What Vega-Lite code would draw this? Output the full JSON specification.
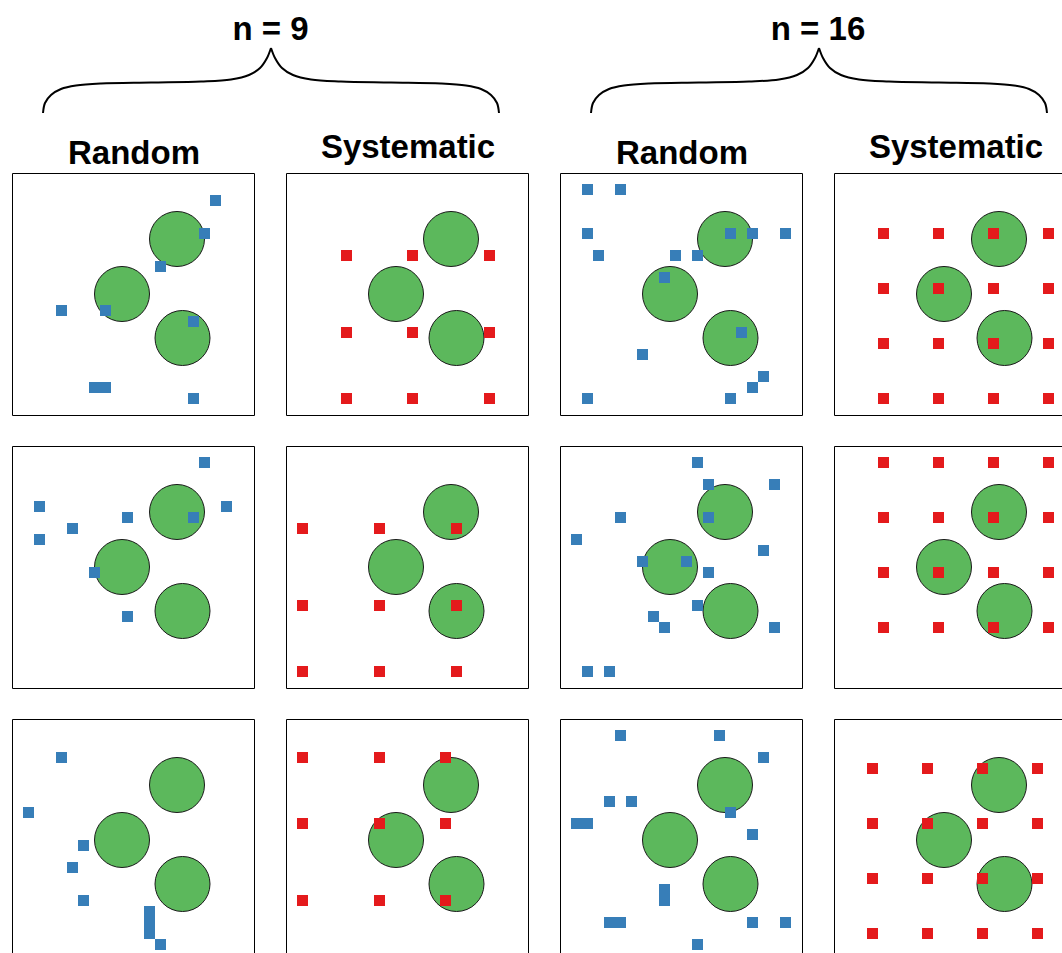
{
  "$schema": "https://vega.github.io/schema/vega-lite/v6.json",
  "padding": {"left": 11, "top": 0, "right": 0, "bottom": 0},
  "background": "white",
  "config": {"view": {"stroke": "#000", "strokeWidth": 1}},
  "spacing": 1,
  "vconcat": [
    {
      "width": 1064,
      "height": 170,
      "view": {"stroke": null},
      "layer": [
        {
          "data": {"values": [
            {"seg": "L1", "o": 0, "x": 30, "y": 113}, {"seg": "L1", "o": 1, "x": 32, "y": 103}, {"seg": "L1", "o": 2, "x": 38, "y": 95}, {"seg": "L1", "o": 3, "x": 48, "y": 89}, {"seg": "L1", "o": 4, "x": 63, "y": 85.5}, {"seg": "L1", "o": 5, "x": 88, "y": 83.5}, {"seg": "L1", "o": 6, "x": 138, "y": 82.5}, {"seg": "L1", "o": 7, "x": 188, "y": 81.5}, {"seg": "L1", "o": 8, "x": 218, "y": 79.5}, {"seg": "L1", "o": 9, "x": 236, "y": 75}, {"seg": "L1", "o": 10, "x": 247, "y": 68}, {"seg": "L1", "o": 11, "x": 254, "y": 58}, {"seg": "L1", "o": 12, "x": 258, "y": 48},
            {"seg": "L2", "o": 0, "x": 486, "y": 113}, {"seg": "L2", "o": 1, "x": 484, "y": 103}, {"seg": "L2", "o": 2, "x": 478, "y": 95}, {"seg": "L2", "o": 3, "x": 468, "y": 89}, {"seg": "L2", "o": 4, "x": 453, "y": 85.5}, {"seg": "L2", "o": 5, "x": 428, "y": 83.5}, {"seg": "L2", "o": 6, "x": 378, "y": 82.5}, {"seg": "L2", "o": 7, "x": 328, "y": 81.5}, {"seg": "L2", "o": 8, "x": 298, "y": 79.5}, {"seg": "L2", "o": 9, "x": 280, "y": 75}, {"seg": "L2", "o": 10, "x": 269, "y": 68}, {"seg": "L2", "o": 11, "x": 262, "y": 58}, {"seg": "L2", "o": 12, "x": 258, "y": 48},
            {"seg": "R1", "o": 0, "x": 578, "y": 113}, {"seg": "R1", "o": 1, "x": 580, "y": 103}, {"seg": "R1", "o": 2, "x": 586, "y": 95}, {"seg": "R1", "o": 3, "x": 596, "y": 89}, {"seg": "R1", "o": 4, "x": 611, "y": 85.5}, {"seg": "R1", "o": 5, "x": 636, "y": 83.5}, {"seg": "R1", "o": 6, "x": 686, "y": 82.5}, {"seg": "R1", "o": 7, "x": 736, "y": 81.5}, {"seg": "R1", "o": 8, "x": 766, "y": 79.5}, {"seg": "R1", "o": 9, "x": 784, "y": 75}, {"seg": "R1", "o": 10, "x": 795, "y": 68}, {"seg": "R1", "o": 11, "x": 802, "y": 58}, {"seg": "R1", "o": 12, "x": 806, "y": 48},
            {"seg": "R2", "o": 0, "x": 1034, "y": 113}, {"seg": "R2", "o": 1, "x": 1032, "y": 103}, {"seg": "R2", "o": 2, "x": 1026, "y": 95}, {"seg": "R2", "o": 3, "x": 1016, "y": 89}, {"seg": "R2", "o": 4, "x": 1001, "y": 85.5}, {"seg": "R2", "o": 5, "x": 976, "y": 83.5}, {"seg": "R2", "o": 6, "x": 926, "y": 82.5}, {"seg": "R2", "o": 7, "x": 876, "y": 81.5}, {"seg": "R2", "o": 8, "x": 846, "y": 79.5}, {"seg": "R2", "o": 9, "x": 828, "y": 75}, {"seg": "R2", "o": 10, "x": 817, "y": 68}, {"seg": "R2", "o": 11, "x": 810, "y": 58}, {"seg": "R2", "o": 12, "x": 806, "y": 48}
          ]},
          "mark": {"type": "line", "interpolate": "catmull-rom", "stroke": "#000", "strokeWidth": 2},
          "encoding": {
            "x": {"field": "x", "type": "quantitative", "scale": {"domain": [-1, 1063], "nice": false, "zero": false}, "axis": null},
            "y": {"field": "y", "type": "quantitative", "scale": {"domain": [0, 170], "nice": false, "zero": false, "reverse": true}, "axis": null},
            "detail": {"field": "seg"},
            "order": {"field": "o", "type": "quantitative"}
          }
        },
        {
          "data": {"values": [
            {"label": "n = 9", "x": 257.5, "y": 40},
            {"label": "n = 16", "x": 805, "y": 40},
            {"label": "Random", "x": 121, "y": 164},
            {"label": "Systematic", "x": 395, "y": 158},
            {"label": "Random", "x": 669, "y": 164},
            {"label": "Systematic", "x": 943, "y": 158}
          ]},
          "mark": {"type": "text", "font": "Liberation Sans", "fontWeight": "bold", "fontSize": 33, "align": "center", "baseline": "alphabetic", "color": "#000"},
          "encoding": {
            "x": {"field": "x", "type": "quantitative"},
            "y": {"field": "y", "type": "quantitative"},
            "text": {"field": "label"}
          }
        }
      ]
    },
    {
      "data": {"values": [
        {"r":1,"c":1,"k":"tree","x":14.5,"y":5.5},{"r":1,"c":1,"k":"tree","x":9.5,"y":10.5},{"r":1,"c":1,"k":"tree","x":15,"y":14.5},
        {"r":1,"c":2,"k":"tree","x":14.5,"y":5.5},{"r":1,"c":2,"k":"tree","x":9.5,"y":10.5},{"r":1,"c":2,"k":"tree","x":15,"y":14.5},
        {"r":1,"c":3,"k":"tree","x":14.5,"y":5.5},{"r":1,"c":3,"k":"tree","x":9.5,"y":10.5},{"r":1,"c":3,"k":"tree","x":15,"y":14.5},
        {"r":1,"c":4,"k":"tree","x":14.5,"y":5.5},{"r":1,"c":4,"k":"tree","x":9.5,"y":10.5},{"r":1,"c":4,"k":"tree","x":15,"y":14.5},
        {"r":2,"c":1,"k":"tree","x":14.5,"y":5.5},{"r":2,"c":1,"k":"tree","x":9.5,"y":10.5},{"r":2,"c":1,"k":"tree","x":15,"y":14.5},
        {"r":2,"c":2,"k":"tree","x":14.5,"y":5.5},{"r":2,"c":2,"k":"tree","x":9.5,"y":10.5},{"r":2,"c":2,"k":"tree","x":15,"y":14.5},
        {"r":2,"c":3,"k":"tree","x":14.5,"y":5.5},{"r":2,"c":3,"k":"tree","x":9.5,"y":10.5},{"r":2,"c":3,"k":"tree","x":15,"y":14.5},
        {"r":2,"c":4,"k":"tree","x":14.5,"y":5.5},{"r":2,"c":4,"k":"tree","x":9.5,"y":10.5},{"r":2,"c":4,"k":"tree","x":15,"y":14.5},
        {"r":3,"c":1,"k":"tree","x":14.5,"y":5.5},{"r":3,"c":1,"k":"tree","x":9.5,"y":10.5},{"r":3,"c":1,"k":"tree","x":15,"y":14.5},
        {"r":3,"c":2,"k":"tree","x":14.5,"y":5.5},{"r":3,"c":2,"k":"tree","x":9.5,"y":10.5},{"r":3,"c":2,"k":"tree","x":15,"y":14.5},
        {"r":3,"c":3,"k":"tree","x":14.5,"y":5.5},{"r":3,"c":3,"k":"tree","x":9.5,"y":10.5},{"r":3,"c":3,"k":"tree","x":15,"y":14.5},
        {"r":3,"c":4,"k":"tree","x":14.5,"y":5.5},{"r":3,"c":4,"k":"tree","x":9.5,"y":10.5},{"r":3,"c":4,"k":"tree","x":15,"y":14.5},

        {"r":1,"c":1,"k":"sample","m":"Random","x":18,"y":2},{"r":1,"c":1,"k":"sample","m":"Random","x":17,"y":5},{"r":1,"c":1,"k":"sample","m":"Random","x":13,"y":8},{"r":1,"c":1,"k":"sample","m":"Random","x":4,"y":12},{"r":1,"c":1,"k":"sample","m":"Random","x":8,"y":12},{"r":1,"c":1,"k":"sample","m":"Random","x":16,"y":13},{"r":1,"c":1,"k":"sample","m":"Random","x":7,"y":19},{"r":1,"c":1,"k":"sample","m":"Random","x":8,"y":19},{"r":1,"c":1,"k":"sample","m":"Random","x":16,"y":20},
        {"r":2,"c":1,"k":"sample","m":"Random","x":17,"y":1},{"r":2,"c":1,"k":"sample","m":"Random","x":2,"y":5},{"r":2,"c":1,"k":"sample","m":"Random","x":19,"y":5},{"r":2,"c":1,"k":"sample","m":"Random","x":10,"y":6},{"r":2,"c":1,"k":"sample","m":"Random","x":16,"y":6},{"r":2,"c":1,"k":"sample","m":"Random","x":5,"y":7},{"r":2,"c":1,"k":"sample","m":"Random","x":2,"y":8},{"r":2,"c":1,"k":"sample","m":"Random","x":7,"y":11},{"r":2,"c":1,"k":"sample","m":"Random","x":10,"y":15},
        {"r":3,"c":1,"k":"sample","m":"Random","x":4,"y":3},{"r":3,"c":1,"k":"sample","m":"Random","x":1,"y":8},{"r":3,"c":1,"k":"sample","m":"Random","x":6,"y":11},{"r":3,"c":1,"k":"sample","m":"Random","x":5,"y":13},{"r":3,"c":1,"k":"sample","m":"Random","x":6,"y":16},{"r":3,"c":1,"k":"sample","m":"Random","x":12,"y":17},{"r":3,"c":1,"k":"sample","m":"Random","x":12,"y":18},{"r":3,"c":1,"k":"sample","m":"Random","x":12,"y":19},{"r":3,"c":1,"k":"sample","m":"Random","x":13,"y":20},

        {"r":1,"c":2,"k":"sample","m":"Systematic","x":5,"y":7},{"r":1,"c":2,"k":"sample","m":"Systematic","x":11,"y":7},{"r":1,"c":2,"k":"sample","m":"Systematic","x":18,"y":7},{"r":1,"c":2,"k":"sample","m":"Systematic","x":5,"y":14},{"r":1,"c":2,"k":"sample","m":"Systematic","x":11,"y":14},{"r":1,"c":2,"k":"sample","m":"Systematic","x":18,"y":14},{"r":1,"c":2,"k":"sample","m":"Systematic","x":5,"y":20},{"r":1,"c":2,"k":"sample","m":"Systematic","x":11,"y":20},{"r":1,"c":2,"k":"sample","m":"Systematic","x":18,"y":20},
        {"r":2,"c":2,"k":"sample","m":"Systematic","x":1,"y":7},{"r":2,"c":2,"k":"sample","m":"Systematic","x":8,"y":7},{"r":2,"c":2,"k":"sample","m":"Systematic","x":15,"y":7},{"r":2,"c":2,"k":"sample","m":"Systematic","x":1,"y":14},{"r":2,"c":2,"k":"sample","m":"Systematic","x":8,"y":14},{"r":2,"c":2,"k":"sample","m":"Systematic","x":15,"y":14},{"r":2,"c":2,"k":"sample","m":"Systematic","x":1,"y":20},{"r":2,"c":2,"k":"sample","m":"Systematic","x":8,"y":20},{"r":2,"c":2,"k":"sample","m":"Systematic","x":15,"y":20},
        {"r":3,"c":2,"k":"sample","m":"Systematic","x":1,"y":3},{"r":3,"c":2,"k":"sample","m":"Systematic","x":8,"y":3},{"r":3,"c":2,"k":"sample","m":"Systematic","x":14,"y":3},{"r":3,"c":2,"k":"sample","m":"Systematic","x":1,"y":9},{"r":3,"c":2,"k":"sample","m":"Systematic","x":8,"y":9},{"r":3,"c":2,"k":"sample","m":"Systematic","x":14,"y":9},{"r":3,"c":2,"k":"sample","m":"Systematic","x":1,"y":16},{"r":3,"c":2,"k":"sample","m":"Systematic","x":8,"y":16},{"r":3,"c":2,"k":"sample","m":"Systematic","x":14,"y":16},

        {"r":1,"c":3,"k":"sample","m":"Random","x":2,"y":1},{"r":1,"c":3,"k":"sample","m":"Random","x":5,"y":1},{"r":1,"c":3,"k":"sample","m":"Random","x":2,"y":5},{"r":1,"c":3,"k":"sample","m":"Random","x":15,"y":5},{"r":1,"c":3,"k":"sample","m":"Random","x":17,"y":5},{"r":1,"c":3,"k":"sample","m":"Random","x":20,"y":5},{"r":1,"c":3,"k":"sample","m":"Random","x":3,"y":7},{"r":1,"c":3,"k":"sample","m":"Random","x":10,"y":7},{"r":1,"c":3,"k":"sample","m":"Random","x":12,"y":7},{"r":1,"c":3,"k":"sample","m":"Random","x":9,"y":9},{"r":1,"c":3,"k":"sample","m":"Random","x":16,"y":14},{"r":1,"c":3,"k":"sample","m":"Random","x":7,"y":16},{"r":1,"c":3,"k":"sample","m":"Random","x":18,"y":18},{"r":1,"c":3,"k":"sample","m":"Random","x":17,"y":19},{"r":1,"c":3,"k":"sample","m":"Random","x":2,"y":20},{"r":1,"c":3,"k":"sample","m":"Random","x":15,"y":20},
        {"r":2,"c":3,"k":"sample","m":"Random","x":12,"y":1},{"r":2,"c":3,"k":"sample","m":"Random","x":13,"y":3},{"r":2,"c":3,"k":"sample","m":"Random","x":19,"y":3},{"r":2,"c":3,"k":"sample","m":"Random","x":5,"y":6},{"r":2,"c":3,"k":"sample","m":"Random","x":13,"y":6},{"r":2,"c":3,"k":"sample","m":"Random","x":1,"y":8},{"r":2,"c":3,"k":"sample","m":"Random","x":18,"y":9},{"r":2,"c":3,"k":"sample","m":"Random","x":7,"y":10},{"r":2,"c":3,"k":"sample","m":"Random","x":11,"y":10},{"r":2,"c":3,"k":"sample","m":"Random","x":13,"y":11},{"r":2,"c":3,"k":"sample","m":"Random","x":12,"y":14},{"r":2,"c":3,"k":"sample","m":"Random","x":8,"y":15},{"r":2,"c":3,"k":"sample","m":"Random","x":9,"y":16},{"r":2,"c":3,"k":"sample","m":"Random","x":19,"y":16},{"r":2,"c":3,"k":"sample","m":"Random","x":2,"y":20},{"r":2,"c":3,"k":"sample","m":"Random","x":4,"y":20},
        {"r":3,"c":3,"k":"sample","m":"Random","x":5,"y":1},{"r":3,"c":3,"k":"sample","m":"Random","x":14,"y":1},{"r":3,"c":3,"k":"sample","m":"Random","x":18,"y":3},{"r":3,"c":3,"k":"sample","m":"Random","x":4,"y":7},{"r":3,"c":3,"k":"sample","m":"Random","x":6,"y":7},{"r":3,"c":3,"k":"sample","m":"Random","x":1,"y":9},{"r":3,"c":3,"k":"sample","m":"Random","x":2,"y":9},{"r":3,"c":3,"k":"sample","m":"Random","x":15,"y":8},{"r":3,"c":3,"k":"sample","m":"Random","x":17,"y":10},{"r":3,"c":3,"k":"sample","m":"Random","x":9,"y":15},{"r":3,"c":3,"k":"sample","m":"Random","x":9,"y":16},{"r":3,"c":3,"k":"sample","m":"Random","x":4,"y":18},{"r":3,"c":3,"k":"sample","m":"Random","x":5,"y":18},{"r":3,"c":3,"k":"sample","m":"Random","x":17,"y":18},{"r":3,"c":3,"k":"sample","m":"Random","x":20,"y":18},{"r":3,"c":3,"k":"sample","m":"Random","x":12,"y":20},

        {"r":1,"c":4,"k":"sample","m":"Systematic","x":4,"y":5},{"r":1,"c":4,"k":"sample","m":"Systematic","x":9,"y":5},{"r":1,"c":4,"k":"sample","m":"Systematic","x":14,"y":5},{"r":1,"c":4,"k":"sample","m":"Systematic","x":19,"y":5},
        {"r":1,"c":4,"k":"sample","m":"Systematic","x":4,"y":10},{"r":1,"c":4,"k":"sample","m":"Systematic","x":9,"y":10},{"r":1,"c":4,"k":"sample","m":"Systematic","x":14,"y":10},{"r":1,"c":4,"k":"sample","m":"Systematic","x":19,"y":10},
        {"r":1,"c":4,"k":"sample","m":"Systematic","x":4,"y":15},{"r":1,"c":4,"k":"sample","m":"Systematic","x":9,"y":15},{"r":1,"c":4,"k":"sample","m":"Systematic","x":14,"y":15},{"r":1,"c":4,"k":"sample","m":"Systematic","x":19,"y":15},
        {"r":1,"c":4,"k":"sample","m":"Systematic","x":4,"y":20},{"r":1,"c":4,"k":"sample","m":"Systematic","x":9,"y":20},{"r":1,"c":4,"k":"sample","m":"Systematic","x":14,"y":20},{"r":1,"c":4,"k":"sample","m":"Systematic","x":19,"y":20},
        {"r":2,"c":4,"k":"sample","m":"Systematic","x":4,"y":1},{"r":2,"c":4,"k":"sample","m":"Systematic","x":9,"y":1},{"r":2,"c":4,"k":"sample","m":"Systematic","x":14,"y":1},{"r":2,"c":4,"k":"sample","m":"Systematic","x":19,"y":1},
        {"r":2,"c":4,"k":"sample","m":"Systematic","x":4,"y":6},{"r":2,"c":4,"k":"sample","m":"Systematic","x":9,"y":6},{"r":2,"c":4,"k":"sample","m":"Systematic","x":14,"y":6},{"r":2,"c":4,"k":"sample","m":"Systematic","x":19,"y":6},
        {"r":2,"c":4,"k":"sample","m":"Systematic","x":4,"y":11},{"r":2,"c":4,"k":"sample","m":"Systematic","x":9,"y":11},{"r":2,"c":4,"k":"sample","m":"Systematic","x":14,"y":11},{"r":2,"c":4,"k":"sample","m":"Systematic","x":19,"y":11},
        {"r":2,"c":4,"k":"sample","m":"Systematic","x":4,"y":16},{"r":2,"c":4,"k":"sample","m":"Systematic","x":9,"y":16},{"r":2,"c":4,"k":"sample","m":"Systematic","x":14,"y":16},{"r":2,"c":4,"k":"sample","m":"Systematic","x":19,"y":16},
        {"r":3,"c":4,"k":"sample","m":"Systematic","x":3,"y":4},{"r":3,"c":4,"k":"sample","m":"Systematic","x":8,"y":4},{"r":3,"c":4,"k":"sample","m":"Systematic","x":13,"y":4},{"r":3,"c":4,"k":"sample","m":"Systematic","x":18,"y":4},
        {"r":3,"c":4,"k":"sample","m":"Systematic","x":3,"y":9},{"r":3,"c":4,"k":"sample","m":"Systematic","x":8,"y":9},{"r":3,"c":4,"k":"sample","m":"Systematic","x":13,"y":9},{"r":3,"c":4,"k":"sample","m":"Systematic","x":18,"y":9},
        {"r":3,"c":4,"k":"sample","m":"Systematic","x":3,"y":14},{"r":3,"c":4,"k":"sample","m":"Systematic","x":8,"y":14},{"r":3,"c":4,"k":"sample","m":"Systematic","x":13,"y":14},{"r":3,"c":4,"k":"sample","m":"Systematic","x":18,"y":14},
        {"r":3,"c":4,"k":"sample","m":"Systematic","x":3,"y":19},{"r":3,"c":4,"k":"sample","m":"Systematic","x":8,"y":19},{"r":3,"c":4,"k":"sample","m":"Systematic","x":13,"y":19},{"r":3,"c":4,"k":"sample","m":"Systematic","x":18,"y":19}
      ]},
      "facet": {
        "row": {"field": "r", "type": "ordinal", "title": null, "header": {"labels": false}},
        "column": {"field": "c", "type": "ordinal", "title": null, "header": {"labels": false}}
      },
      "spacing": {"row": 29, "column": 30},
      "spec": {
        "width": 242,
        "height": 242,
        "layer": [
          {
            "transform": [{"filter": "datum.k == 'tree'"}],
            "mark": {"type": "circle", "size": 3025, "fill": "#5cb85c", "stroke": "#1a1a1a", "strokeWidth": 1, "opacity": 1},
            "encoding": {
              "x": {"field": "x", "type": "quantitative", "scale": {"domain": [-0.5, 21.5], "nice": false, "zero": false}, "axis": null},
              "y": {"field": "y", "type": "quantitative", "scale": {"domain": [-0.5, 21.5], "nice": false, "zero": false, "reverse": true}, "axis": null}
            }
          },
          {
            "transform": [{"filter": "datum.k == 'sample'"}],
            "mark": {"type": "square", "size": 121, "opacity": 1, "strokeWidth": 0},
            "encoding": {
              "x": {"field": "x", "type": "quantitative", "axis": null},
              "y": {"field": "y", "type": "quantitative", "axis": null},
              "color": {"field": "m", "type": "nominal", "scale": {"domain": ["Random", "Systematic"], "range": ["#377eb8", "#e41a1c"]}, "legend": null}
            }
          }
        ]
      }
    }
  ]
}
